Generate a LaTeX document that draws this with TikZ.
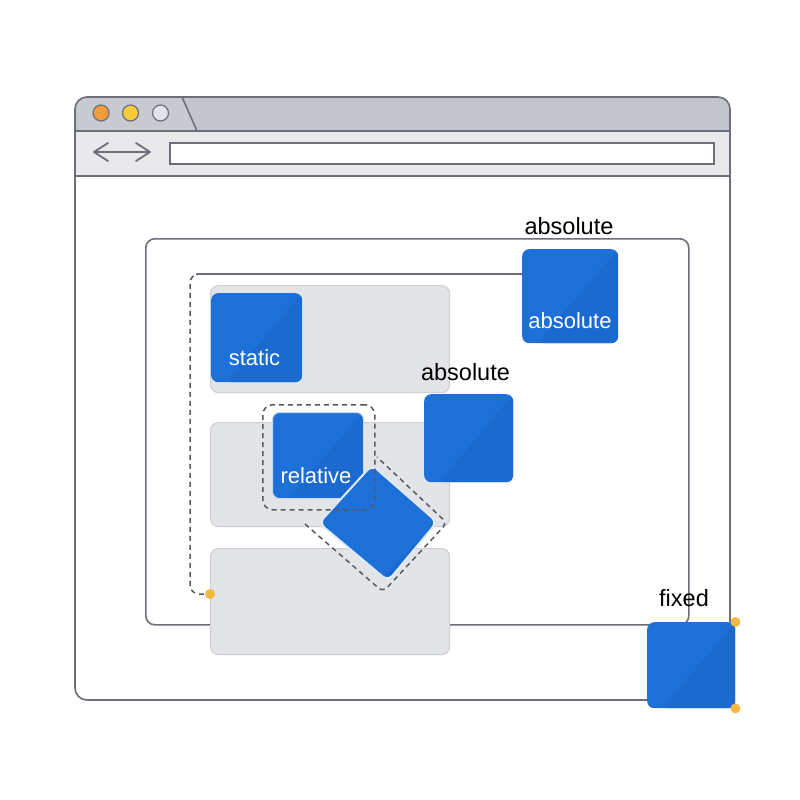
\documentclass[tikz,border=0pt]{standalone}
\usepackage{fontspec}
\setmainfont{Liberation Sans}
\usetikzlibrary{shapes.geometric}
\definecolor{frame}{HTML}{6C6F7A}
\definecolor{titlegray}{HTML}{C2C5CB}
\definecolor{tabgray}{HTML}{C7CACF}
\definecolor{toolgray}{HTML}{E9E9EB}
\definecolor{rowgray}{HTML}{E3E4E7}
\definecolor{rowedge}{HTML}{CFD0D5}
\definecolor{boxblue}{HTML}{1C70D8}
\definecolor{boxblue2}{HTML}{1B6AD0}
\definecolor{dashgray}{HTML}{565A66}
\definecolor{dotorange}{HTML}{F4B942}
\definecolor{lightorange}{HTML}{F39A3B}
\definecolor{lightyellow}{HTML}{F6CA3A}
\definecolor{lightgray}{HTML}{E1E4E9}
\tikzset{
  frameline/.style={draw=frame, line width=1.6pt},
  rowbox/.style={fill=rowgray, draw=rowedge, line width=1.2pt, rounded corners=8pt,
    anchor=north west, inner sep=0pt},
  bluebox/.style={fill=boxblue, rounded corners=7pt, anchor=north west, inner sep=0pt,
    path picture={\fill[boxblue2] (path picture bounding box.north east) --
      (path picture bounding box.south east) -- ([xshift=15pt]path picture bounding box.south west) -- cycle;}},
  dashframe/.style={draw=dashgray, line width=1.5pt, dash pattern=on 5pt off 4pt},
  lbl/.style={font=\fontsize{23.5}{26}\selectfont, text=black, inner sep=0pt},
  wlbl/.style={font=\fontsize{22}{24}\selectfont, text=white, inner sep=0pt},
  light/.style={circle, draw=frame, line width=1.2pt, minimum size=16pt, inner sep=0pt},
  odot/.style={circle, fill=dotorange, minimum size=10pt, inner sep=0pt}
}
\begin{document}
\begin{tikzpicture}[x=1pt,y=-1pt]
\useasboundingbox (0,0) rectangle (800,800);
% browser window
\fill[white, rounded corners=12pt] (75,97) rectangle (730,700);
\begin{scope}
  \clip[rounded corners=12pt] (75,97) rectangle (730,700);
  \fill[titlegray] (75,97) rectangle (730,131);
  \fill[tabgray] (75,97) -- (182,97) -- (197,131) -- (75,131) -- cycle;
  \fill[toolgray] (75,131) rectangle (730,176);
\end{scope}
\draw[frameline] (75,131) -- (730,131);
\draw[frameline] (75,176) -- (730,176);
\draw[frameline] (182,97) -- (197,131);
\node[frameline, draw, fill=white, anchor=north west, minimum width=544pt, minimum height=21pt, inner sep=0pt] (url) at (169,142) {};
\node[light, fill=lightorange] (l1) at (101,113) {};
\node[light, fill=lightyellow] (l2) at (130.5,113) {};
\node[light, fill=lightgray] (l3) at (160.5,113) {};
\draw[draw=frame, line width=1.8pt, line cap=round, line join=round]
  (108,143) -- (94,152) -- (108,161) (94,152) -- (150,152) (136,143) -- (150,152) -- (136,161);
\draw[frameline, rounded corners=12pt] (75,97) rectangle (730,700);
% inner container
\node[frameline, draw, rounded corners=9pt, anchor=north west, minimum width=543pt, minimum height=386pt, inner sep=0pt] (cont) at (145,238) {};
% rows
\node[rowbox, minimum width=239pt, minimum height=107pt] (row1) at (210,285) {};
\node[rowbox, minimum width=239pt, minimum height=104pt] (row2) at (210,422) {};
\node[rowbox, minimum width=239pt, minimum height=106pt] (row3) at (210,548) {};
% static
\node[bluebox, minimum width=91pt, minimum height=89pt] (static) at (211,293) {};
\node[wlbl, anchor=base] (tstatic) at (254.5,365) {static};
% relative
\node[bluebox, draw=white!75!boxblue, line width=1pt, minimum width=91pt, minimum height=86pt] (rel) at (272,412) {};
\node[wlbl, anchor=base] (trel) at (316,483) {relative};
% rotated copy and its frame
\draw[dashframe, rounded corners=6pt] (305,524) -- (383,592) -- (447,523) -- (377,457);
\path[fill=boxblue, draw=white!85!boxblue, line width=2pt, rounded corners=7pt,
  path picture={\fill[boxblue2] (path picture bounding box.east) -- (path picture bounding box.south) -- (path picture bounding box.south east) -- cycle;}]
  (372,465) -- (437,522) -- (388,581) -- (319,523) -- cycle;
\node[dashframe, rounded corners=10pt, anchor=north west, minimum width=112pt, minimum height=105pt, inner sep=0pt] (relframe) at (262,404) {};
% absolute boxes
\node[bluebox, minimum width=89pt, minimum height=88pt] (abs1) at (424,394) {};
\node[lbl, anchor=base] (tabs1) at (465.5,380) {absolute};
\node[bluebox, minimum width=96pt, minimum height=94pt] (abs2) at (522,249) {};
\node[wlbl, anchor=base] (tabs2in) at (570,328) {absolute};
\node[lbl, anchor=base] (tabs2) at (569,234) {absolute};
% containing-block line
\coordinate (c1) at (198,274);
\coordinate (c2) at (190,274);
\coordinate (c3) at (190,594);
\node[odot] (d1) at (210,594) {};
\draw[dashframe, rounded corners=9pt] (196,274) -- (c2) -- (c3) -- (d1.west);
\draw[frameline] (c1) -- (abs2.west |- c1);
% fixed
\node[bluebox, minimum width=88pt, minimum height=86pt] (fixed) at (647,622) {};
\node[lbl, anchor=base] (tfixed) at (684,606) {fixed};
\node[odot] (d2) at (fixed.north east) {};
\node[odot] (d3) at (fixed.south east) {};
\end{tikzpicture}
\end{document}
